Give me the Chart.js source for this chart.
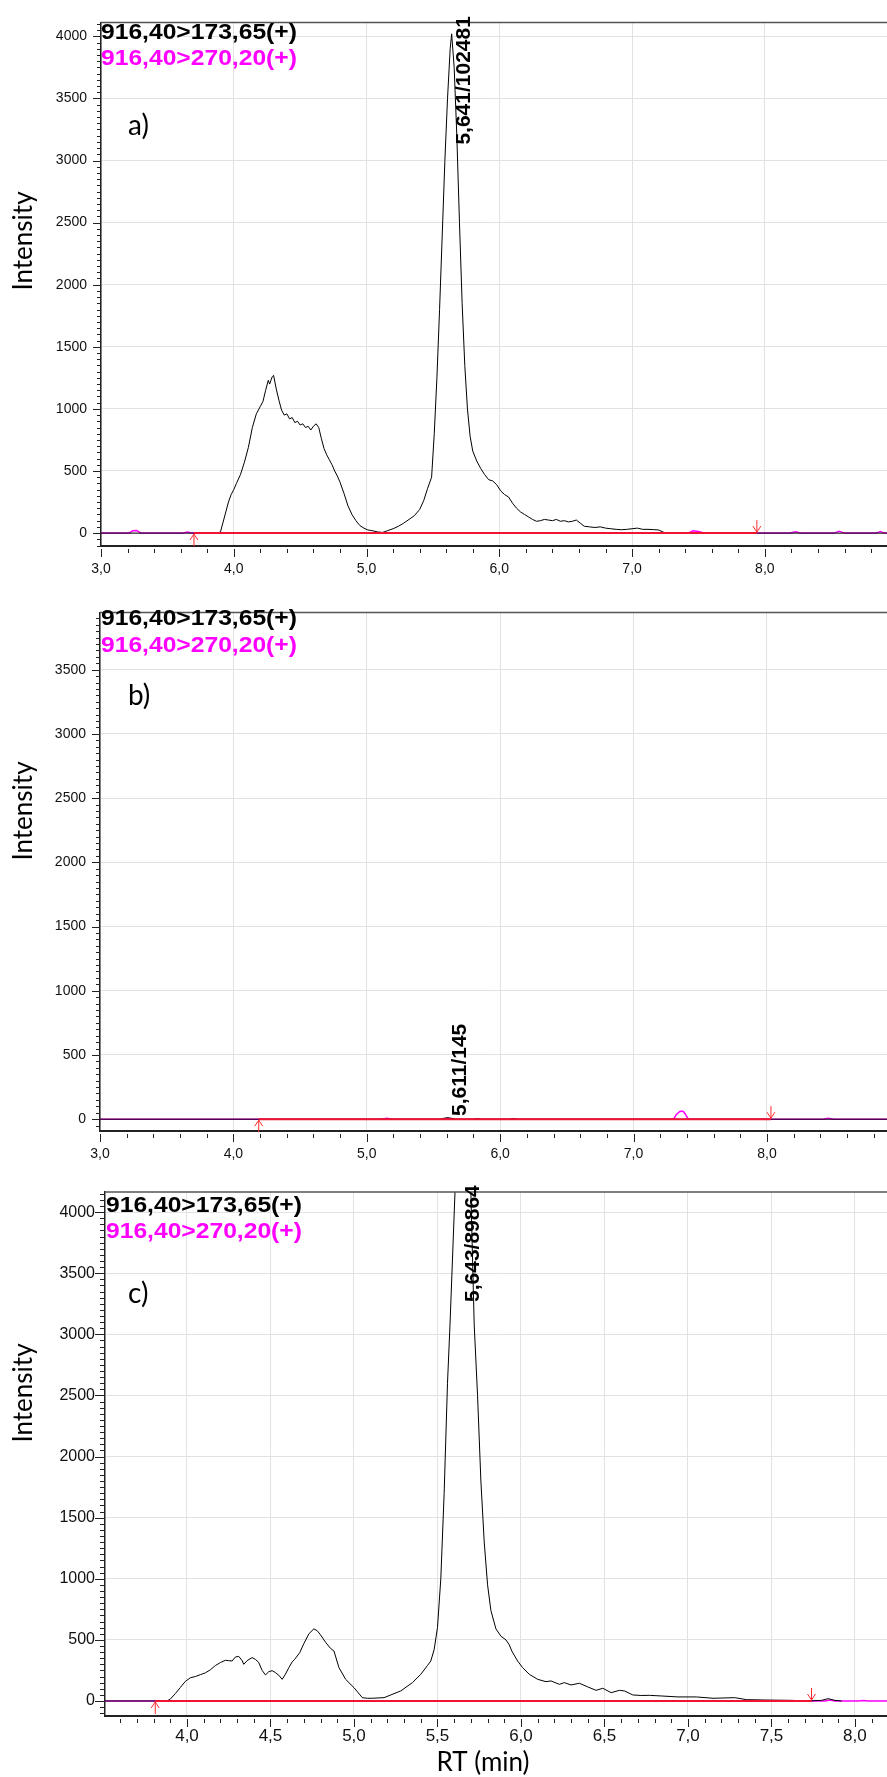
<!DOCTYPE html>
<html>
<head>
<meta charset="utf-8">
<script src="https://cdn.jsdelivr.net/npm/chart.js@4.4.1/dist/chart.umd.min.js"></script>
<style>
  html, body { margin: 0; padding: 0; background: #fff; }
  body { width: 887px; height: 1777px; position: relative; overflow: hidden; }
  canvas { position: absolute; left: 0; }
</style>
</head>
<body>
<canvas id="chartA" width="887" height="590" style="top:0px"></canvas>
<canvas id="chartB" width="887" height="580" style="top:590px"></canvas>
<canvas id="chartC" width="887" height="607" style="top:1170px"></canvas>
<script>
// Textos comunes
const transitions = ['916,40>173,65(+)', '916,40>270,20(+)'];
const panelTags = ['a)', 'b)', 'c)'];
const peakRT = [5.641, 5.611, 5.643];
const peakText = ['5,641/102481', '5,611/145', '5,643/89864'];
const startRT = [3.70, 4.19, 3.81];
const endRT = [7.94, 8.03, 7.74];

// a) traza 916,40>173,65
const rtA = [3.00, 3.88, 3.90, 3.92, 3.94, 3.96, 3.98, 4.00, 4.02, 4.05, 4.08, 4.11, 4.14, 4.17, 4.20, 4.22, 4.24, 4.26, 4.27, 4.29, 4.30,
  4.32, 4.34, 4.36, 4.38, 4.40, 4.42, 4.44, 4.46, 4.48, 4.50, 4.52, 4.54, 4.56, 4.58, 4.60, 4.62, 4.64, 4.66, 4.68, 4.70, 4.72, 4.74,
  4.76, 4.78, 4.80, 4.83, 4.86, 4.89, 4.92, 4.95, 4.98, 5.01, 5.04, 5.08, 5.12, 5.16, 5.20, 5.24, 5.28, 5.32, 5.36, 5.40, 5.43, 5.46,
  5.49, 5.51, 5.53, 5.55, 5.57, 5.59, 5.61, 5.63, 5.641, 5.66, 5.68, 5.70, 5.72, 5.74, 5.76, 5.78, 5.80, 5.83, 5.86, 5.89, 5.92, 5.95,
  5.98, 6.01, 6.04, 6.07, 6.10, 6.13, 6.16, 6.19, 6.22, 6.25, 6.28, 6.31, 6.34, 6.37, 6.40, 6.43, 6.46, 6.49, 6.52, 6.55, 6.58, 6.61,
  6.64, 6.68, 6.72, 6.76, 6.80, 6.84, 6.88, 6.92, 6.96, 7.00, 7.04, 7.08, 7.12, 7.16, 7.20, 7.24, 7.28, 8.92];
const intA = [0, 0, 10, 90, 170, 250, 310, 350, 400, 470, 570, 690, 850, 960, 1020, 1060, 1150, 1230, 1200, 1260, 1270,
  1160, 1070, 990, 950, 960, 920, 930, 890, 900, 870, 880, 850, 860, 830, 860, 880, 850, 760, 680, 630, 590, 550,
  500, 460, 410, 320, 220, 150, 100, 60, 40, 25, 20, 10, 5, 20, 35, 55, 80, 110, 140, 190, 260, 360,
  450, 800, 1250, 1800, 2400, 3000, 3500, 3900, 4020, 3750, 3200, 2500, 1850, 1350, 1000, 780, 660, 580, 520, 470, 430, 420,
  390, 340, 310, 290, 240, 200, 170, 150, 130, 110, 95, 100, 110, 105, 100, 110, 95, 100, 90, 95, 105, 80,
  55, 50, 45, 50, 40, 35, 30, 27, 30, 35, 40, 30, 30, 28, 25, 5, 0, 0];
// a) traza 916,40>270,20
const rtAm = [3.00, 3.21, 3.24, 3.27, 3.30, 3.62, 3.65, 3.68, 7.42, 7.46, 7.50, 7.54, 8.19, 8.23, 8.27, 8.52, 8.56, 8.60, 8.84, 8.87, 8.90, 8.92];
const intAm = [0, 0, 18, 20, 0, 0, 8, 0, 0, 18, 12, 0, 0, 10, 0, 0, 15, 0, 0, 12, 0, 0];

// b) trazas
const rtB = [3.00, 5.55, 5.59, 5.611, 5.63, 5.67, 5.80, 5.83, 5.86, 6.07, 6.10, 6.13, 8.90];
const intB = [0, 0, 10, 12, 8, 0, 0, 5, 0, 0, 5, 0, 0];
const rtBm = [3.00, 5.11, 5.15, 5.19, 5.58, 5.61, 5.64, 7.30, 7.32, 7.345, 7.36, 7.375, 7.39, 7.41, 8.42, 8.46, 8.50, 8.90];
const intBm = [0, 0, 8, 0, 0, 6, 0, 0, 35, 58, 64, 58, 35, 0, 0, 8, 0, 0];

// c) trazas
const rtC = [3.509, 3.88, 3.90, 3.93, 3.96, 3.99, 4.02, 4.05, 4.08, 4.11, 4.14, 4.17, 4.20, 4.23, 4.25, 4.27, 4.29, 4.31, 4.33, 4.34,
  4.36, 4.39, 4.41, 4.43, 4.45, 4.47, 4.49, 4.51, 4.53, 4.55, 4.57, 4.59, 4.61, 4.63, 4.645, 4.675, 4.70, 4.73, 4.76, 4.78, 4.80,
  4.83, 4.86, 4.88, 4.91, 4.95, 5.00, 5.05, 5.08, 5.11, 5.15, 5.18, 5.22, 5.28, 5.35, 5.40, 5.44, 5.46, 5.48, 5.50, 5.52, 5.54,
  5.56, 5.575, 5.605, 5.643, 5.66, 5.69, 5.70, 5.72, 5.74, 5.76, 5.78, 5.80, 5.82, 5.85, 5.88, 5.91, 5.93, 5.945, 5.98, 6.01,
  6.05, 6.10, 6.15, 6.18, 6.23, 6.26, 6.30, 6.35, 6.40, 6.45, 6.49, 6.54, 6.59, 6.62, 6.67, 6.72, 6.77, 6.84, 6.94, 7.05, 7.15,
  7.28, 7.35, 7.45, 7.62, 7.72, 7.80, 7.84, 7.88, 7.92];
const intC = [0, 0, 15, 60, 110, 160, 190, 200, 215, 230, 255, 290, 314, 333, 330, 327, 360, 365, 330, 300,
  330, 355, 340, 314, 250, 213, 240, 248, 232, 210, 177, 220, 273, 320, 341, 395, 470, 550, 590, 575, 540,
  480, 430, 409, 273, 177, 109, 27, 22, 22, 25, 27, 49, 82, 150, 218, 290, 327, 420, 600, 1000, 1700,
  2600, 3077, 4165, 5800, 5400, 4500, 4165, 3077, 2500, 1800, 1300, 950, 740, 590, 530, 500, 460, 409, 327, 273,
  218, 177, 158, 164, 136, 150, 131, 145, 115, 87, 104, 68, 87, 82, 49, 45, 46, 41, 33, 33, 22,
  27, 11, 8, 5, 0, 5, 19, 5, 0];
const rtCm = [3.509, 7.82, 7.85, 7.88, 8.02, 8.05, 8.08, 8.192];
const intCm = [0, 0, 8, 0, 0, 4, 0, 0];

const rtTicks = v => v.toFixed(1).replace('.', ',');
const toPts = (xs, ys) => xs.map((x, i) => ({ x: x, y: ys[i] }));

// Ticks fijos en múltiplos del paso (evita que Chart.js reparta el rango)
function ticksFijos(step) {
    return scale => {
        const out = [];
        for (let i = Math.ceil(scale.min / step - 1e-9); i * step <= scale.max + 1e-9; i++) {
            out.push({ value: Math.round(i * step * 1000) / 1000 });
        }
        scale.ticks = out;
    };
}

// Plugin de decoración: ticks menores, flechas, textos
const decor = {
    id: 'decor',
    afterDraw(chart, args, o) {
        const ctx = chart.ctx;
        const area = chart.chartArea;
        const xs = chart.scales.x;
        const ys = chart.scales.y;
        ctx.save();

        // borde superior
        ctx.strokeStyle = '#555';
        ctx.lineWidth = 1.5;
        ctx.beginPath();
        ctx.moveTo(area.left, area.top);
        ctx.lineTo(area.right, area.top);
        ctx.stroke();

        // ticks del eje y
        ctx.strokeStyle = '#222';
        ctx.lineWidth = 1;
        for (let i = Math.ceil(ys.min / o.yMinor); i * o.yMinor <= ys.max; i++) {
            const v = i * o.yMinor;
            const major = Math.abs(v / 500 - Math.round(v / 500)) < 1e-6;
            const y = Math.round(ys.getPixelForValue(v)) + 0.5;
            const len = major ? o.yMajorLen : o.yMinorLen;
            ctx.beginPath();
            ctx.moveTo(area.left - len, y);
            ctx.lineTo(area.left, y);
            ctx.stroke();
        }
        // ticks del eje x
        for (let i = Math.ceil(xs.min / o.xMinor - 1e-6); i * o.xMinor <= xs.max + 1e-9; i++) {
            const v = i * o.xMinor;
            const major = Math.abs(v / o.xMajor - Math.round(v / o.xMajor)) < 1e-6;
            const x = Math.round(xs.getPixelForValue(v)) + 0.5;
            const len = major ? o.xMajorLen : o.xMinorLen;
            ctx.beginPath();
            ctx.moveTo(x, area.bottom + 3);
            ctx.lineTo(x, area.bottom + 3 + len);
            ctx.stroke();
        }

        // flechas de integración
        const y0 = ys.getPixelForValue(0);
        ctx.strokeStyle = '#ff2a2a';
        ctx.lineWidth = 1;
        const xs0 = xs.getPixelForValue(o.start);
        ctx.beginPath();
        ctx.moveTo(xs0, y0 + 13); ctx.lineTo(xs0, y0 + 1);
        ctx.moveTo(xs0 - 4, y0 + 7); ctx.lineTo(xs0, y0 + 1); ctx.lineTo(xs0 + 4, y0 + 7);
        ctx.stroke();
        const xe = xs.getPixelForValue(o.end);
        ctx.beginPath();
        ctx.moveTo(xe, y0 - 13); ctx.lineTo(xe, y0 - 1);
        ctx.moveTo(xe - 4, y0 - 7); ctx.lineTo(xe, y0 - 1); ctx.lineTo(xe + 4, y0 - 7);
        ctx.stroke();

        // etiqueta del pico (rotada)
        ctx.fillStyle = '#000';
        ctx.font = 'bold 21px "Liberation Sans", Arial, sans-serif';
        ctx.save();
        ctx.translate(xs.getPixelForValue(o.peakRT) + 18, ys.getPixelForValue(o.peakAnchor));
        ctx.rotate(-Math.PI / 2);
        ctx.textAlign = 'left';
        ctx.textBaseline = 'alphabetic';
        ctx.fillText(o.peakText, 0, 0);
        ctx.restore();

        // transiciones
        ctx.font = 'bold 22px "Liberation Sans", Arial, sans-serif';
        ctx.textAlign = 'left';
        ctx.textBaseline = 'alphabetic';
        o.transY.forEach((ty, i) => {
            ctx.save();
            ctx.fillStyle = i === 0 ? '#000' : '#ff00ff';
            ctx.translate(o.transX, ty);
            ctx.scale(1.12, 1);
            ctx.fillText(transitions[i], 0, 0);
            ctx.restore();
        });

        // etiqueta del panel
        ctx.fillStyle = '#000';
        ctx.font = '28px Lato, "Open Sans", sans-serif';
        ctx.fillText(o.tag, 128, o.tagY);

        // Intensity
        ctx.save();
        ctx.font = '26px Lato, "Open Sans", sans-serif';
        ctx.translate(32, o.titleY);
        ctx.rotate(-Math.PI / 2);
        ctx.textAlign = 'center';
        ctx.fillText('Intensity', 0, 0);
        ctx.restore();

        if (o.xTitle) {
            ctx.font = '26px Lato, "Open Sans", sans-serif';
            ctx.textAlign = 'center';
            ctx.fillText(o.xTitle, 483, o.xTitleY);
        }
        ctx.restore();
    }
};

function crearPanel(id, p) {
    const canvas = document.getElementById(id);
    return new Chart(canvas, {
        type: 'line',
        data: {
            datasets: [
                {
                    label: 'baseline',
                    data: [{ x: p.start, y: 0 }, { x: p.end, y: 0 }],
                    borderColor: 'rgb(240,20,50)',
                    borderWidth: 2
                },
                {
                    label: transitions[0],
                    data: p.black,
                    borderColor: '#000',
                    borderWidth: 1
                },
                {
                    label: transitions[1],
                    data: p.magenta,
                    borderColor: '#ff00ff',
                    borderWidth: 1.5
                }
            ]
        },
        options: {
            responsive: false,
            animation: false,
            parsing: false,
            layout: { padding: { top: p.plotTop, left: 0, right: 0, bottom: 0 } },
            elements: { point: { radius: 0 }, line: { tension: 0 } },
            plugins: {
                legend: { display: false },
                tooltip: { enabled: false },
                decor: {
                    yMinor: 50, yMajorLen: p.yMajorLen, yMinorLen: p.yMinorLen,
                    xMinor: p.xMinor, xMajor: p.xStep, xMajorLen: p.xMajorLen, xMinorLen: p.xMinorLen,
                    start: p.start, end: p.end,
                    peakRT: p.peakRT, peakText: p.peakText, peakAnchor: p.peakAnchor,
                    transX: p.transX, transY: p.transY,
                    tag: p.tag, tagY: p.tagY, titleY: p.titleY,
                    xTitle: p.xTitle, xTitleY: p.xTitleY
                }
            },
            scales: {
                x: {
                    type: 'linear',
                    min: p.xMin,
                    max: p.xMax,
                    afterBuildTicks: ticksFijos(p.xStep),
                    afterFit: s => { s.height = p.xAxisH; },
                    border: { color: '#222', width: 2 },
                    grid: { color: '#e2e2e2', lineWidth: 1, drawTicks: false },
                    ticks: {
                        autoSkip: false,
                        maxRotation: 0,
                        padding: p.xPad,
                        color: '#111',
                        font: { family: '"Liberation Sans", Arial, sans-serif', size: p.xFont },
                        callback: rtTicks
                    }
                },
                y: {
                    type: 'linear',
                    min: p.yMin,
                    max: p.yMax,
                    afterBuildTicks: ticksFijos(500),
                    afterFit: s => { s.width = p.plotLeft; },
                    border: { color: '#222', width: 1.5 },
                    grid: { color: '#e2e2e2', lineWidth: 1, drawTicks: false },
                    ticks: {
                        autoSkip: false,
                        padding: p.yPad,
                        color: '#111',
                        font: { family: '"Liberation Sans", Arial, sans-serif', size: p.yFont },
                        callback: v => String(v)
                    }
                }
            }
        },
        plugins: [decor]
    });
}

crearPanel('chartA', {
    black: toPts(rtA, intA), magenta: toPts(rtAm, intAm),
    start: startRT[0], end: endRT[0], peakRT: peakRT[0], peakText: peakText[0], peakAnchor: 3128,
    plotTop: 19, plotLeft: 101, xAxisH: 44,
    xMin: 3.0, xMax: 8.92, xStep: 1, xMinor: 0.2, yMin: -104, yMax: 4112,
    xFont: 14, yFont: 14, xPad: 15, yPad: 14,
    yMajorLen: 8, yMinorLen: 4, xMajorLen: 8, xMinorLen: 4,
    transX: 101, transY: [39, 65], tag: panelTags[0], tagY: 135, titleY: 241
});

crearPanel('chartB', {
    black: toPts(rtB, intB), magenta: toPts(rtBm, intBm),
    start: startRT[1], end: endRT[1], peakRT: peakRT[1], peakText: peakText[1], peakAnchor: 25,
    plotTop: 16, plotLeft: 100, xAxisH: 39,
    xMin: 3.0, xMax: 8.90, xStep: 1, xMinor: 0.2, yMin: -92, yMax: 3946,
    xFont: 14, yFont: 14, xPad: 15, yPad: 14,
    yMajorLen: 8, yMinorLen: 4, xMajorLen: 8, xMinorLen: 4,
    transX: 101, transY: [35, 62], tag: panelTags[1], tagY: 115, titleY: 221
});

crearPanel('chartC', {
    black: toPts(rtC, intC), magenta: toPts(rtCm, intCm),
    start: startRT[2], end: endRT[2], peakRT: peakRT[2], peakText: peakText[2], peakAnchor: 3265,
    plotTop: 22, plotLeft: 105, xAxisH: 61,
    xMin: 3.509, xMax: 8.192, xStep: 0.5, xMinor: 0.1, yMin: -123, yMax: 4165,
    xFont: 17, yFont: 16, xPad: 10, yPad: 10,
    yMajorLen: 10, yMinorLen: 5, xMajorLen: 8, xMinorLen: 4,
    transX: 106, transY: [42, 68], tag: panelTags[2], tagY: 133, titleY: 223,
    xTitle: 'RT (min)', xTitleY: 601
});
</script>
</body>
</html>
